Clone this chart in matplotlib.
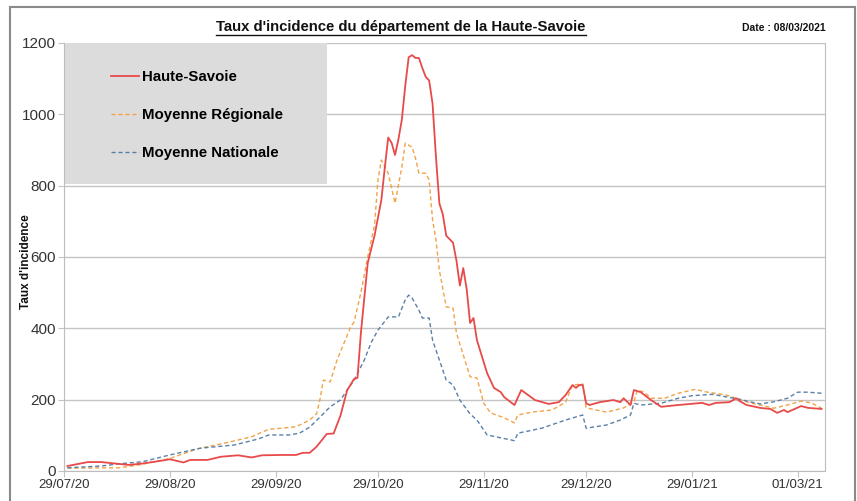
import matplotlib
matplotlib.use("Agg")
import matplotlib.pyplot as plt
from matplotlib.patches import Rectangle
from matplotlib.lines import Line2D
import pandas as pd

# days since 29/07/2020 and incidence values
hs_days = [1, 7, 11, 16, 19, 23, 28, 31, 35, 37, 42, 46, 51, 55, 58, 64, 68, 70, 72, 74,
           77, 79, 81, 83, 85, 86, 87, 89, 91, 93, 94, 95, 96, 97, 98, 99, 100, 101, 102,
           103, 104, 105, 106, 107, 108, 109, 110, 111, 112, 114, 115, 116, 117, 118, 119,
           120, 121, 124, 126, 128, 129, 132, 134, 138, 142, 145, 147, 149, 150, 151, 152,
           153, 154, 157, 161, 163, 164, 166, 167, 169, 172, 175, 180, 187, 189, 191, 195,
           197, 198, 200, 204, 207, 209, 211, 212, 216, 218, 222]
hs_vals = [14, 25, 25, 20, 17, 21, 28, 33, 24, 31, 31, 40, 44, 38, 44, 45, 45, 51, 51, 68,
           104, 105, 155, 227, 258, 261, 387, 583, 660, 760, 850, 935, 920, 886, 930, 985,
           1080, 1160, 1166, 1158, 1158, 1130, 1105, 1095, 1030, 880, 750, 720, 660, 640,
           590, 520, 569, 510, 415, 429, 367, 274, 233, 221, 207, 185, 227, 199, 188, 193,
           213, 241, 233, 241, 241, 190, 185, 193, 199, 193, 204, 185, 227, 221, 199, 180,
           185, 191, 185, 191, 193, 204, 196, 185, 177, 174, 163, 171, 165, 182, 177, 174]

reg_days = [1, 16, 22, 31, 39, 47, 55, 60, 64, 68, 72, 74, 75, 76, 78, 80, 84, 85, 87, 89,
            91, 92, 93, 95, 97, 99, 100, 102, 103, 104, 106, 107, 108, 109, 110, 112, 114,
            115, 119, 121, 123, 125, 129, 132, 133, 137, 143, 147, 149, 152, 153, 159, 164,
            167, 168, 170, 172, 176, 180, 185, 188, 194, 197, 201, 205, 208, 212, 216, 219, 222]
reg_vals = [8, 9, 17, 35, 62, 78, 96, 117, 120, 124, 143, 160, 200, 255, 250, 311, 404, 418,
            500, 600, 690, 816, 872, 835, 751, 852, 919, 908, 877, 835, 835, 816, 704, 648,
            563, 460, 457, 387, 264, 261, 190, 163, 149, 135, 157, 165, 171, 193, 241, 244,
            177, 165, 177, 193, 227, 221, 204, 204, 218, 229, 222, 213, 204, 191, 183, 176,
            185, 196, 191, 176]

nat_days = [1, 11, 16, 23, 31, 40, 50, 57, 60, 66, 69, 72, 75, 78, 81, 85, 88, 90, 92, 95,
            98, 100, 101, 102, 104, 105, 107, 108, 110, 112, 114, 116, 119, 121, 124, 127,
            131, 132, 133, 140, 147, 152, 153, 159, 163, 166, 167, 169, 175, 180, 184, 190,
            194, 198, 201, 204, 208, 212, 215, 218, 222]
nat_vals = [9, 14, 20, 26, 45, 64, 73, 90, 101, 101, 106, 123, 151, 180, 199, 255, 311, 360,
            395, 432, 432, 480, 493, 485, 451, 429, 429, 367, 311, 255, 241, 199, 160, 143,
            101, 95, 87, 85, 106, 120, 143, 157, 120, 129, 143, 157, 190, 185, 190, 204, 211,
            215, 208, 201, 194, 188, 194, 204, 221, 221, 218]

tick_labels = ["29/07/20", "29/08/20", "29/09/20", "29/10/20", "29/11/20",
               "29/12/20", "29/01/21", "01/03/21"]

start = pd.Timestamp("2020-07-29")
to_dates = lambda d: start + pd.to_timedelta(d, unit="D")

plt.rcParams["font.family"] = ["Liberation Sans", "DejaVu Sans"]

fig = plt.figure(figsize=(8.57, 5.01), dpi=100)
W, H = 857, 501
ax = fig.add_axes([64 / W, 1 - 471 / H, (825 - 64) / W, (471 - 43) / H])

# outer frame of the picture
fig.patches.append(Rectangle((10 / W, -0.05), (855 - 10) / W, 1 - 7 / H + 0.05,
                             transform=fig.transFigure, fill=False,
                             edgecolor="#8a8a8a", lw=1.5))

ax.plot(to_dates(hs_days), hs_vals, color="#e84a4a", lw=1.3, label="Haute-Savoie", zorder=4)
ax.plot(to_dates(reg_days), reg_vals, color="#f2a346", lw=1.0, ls=(0, (3, 2)),
        label="Moyenne Régionale", zorder=3)
ax.plot(to_dates(nat_days), nat_vals, color="#5a80a8", lw=1.0, ls=(0, (3, 2)),
        label="Moyenne Nationale", zorder=3)

ax.set_xlim(start, to_dates(223))
ax.set_ylim(0, 1200)
ax.set_yticks(range(0, 1201, 200))
ax.yaxis.grid(True, color="#c4c4c4", lw=1)
ax.set_axisbelow(True)
tick_dates = pd.to_datetime(tick_labels, format="%d/%m/%y")
ax.set_xticks(tick_dates)
ax.set_xticklabels(tick_labels)
ax.tick_params(axis="x", labelsize=9.5, colors="#c4c4c4", labelcolor="#333333", length=4, pad=2)
ax.tick_params(axis="y", labelsize=11, colors="#c4c4c4", labelcolor="#333333", length=4, pad=2)
for s in ["left", "bottom", "right"]:
    ax.spines[s].set_color("#bdbdbd")
ax.spines["top"].set_visible(False)

# grey legend panel
ax.add_patch(Rectangle((0, (471 - 184) / 428), (327 - 64) / 761, 1 - (471 - 184) / 428,
                       transform=ax.transAxes, facecolor="#dcdcdc", edgecolor="none", zorder=1.5))
leg = ax.legend(loc="upper left", bbox_to_anchor=((103 - 64) / 761, (471 - 63) / 428),
                frameon=False, borderpad=0, handlelength=1.9, handletextpad=0.2,
                labelspacing=1.6, prop={"weight": "bold", "size": 10.8})
leg.set_zorder(5)

fig.text(26 / W, 1 - 262 / H, "Taux d'incidence", rotation=90, ha="center", va="center",
         fontsize=8.5, fontweight="bold", color="#111111")

title = fig.text(401 / W, 1 - 27 / H, "Taux d'incidence du département de la Haute-Savoie",
                 ha="center", va="center", fontsize=10.7, fontweight="bold", color="#111111")
fig.text(826 / W, 1 - 28 / H, "Date : 08/03/2021", ha="right", va="center",
         fontsize=7.5, fontweight="bold", color="#111111")

# underline the title
fig.canvas.draw()
bb = title.get_window_extent().transformed(fig.transFigure.inverted())
fig.lines.append(Line2D([bb.x0, bb.x1], [bb.y0 - 1 / H, bb.y0 - 1 / H],
                        transform=fig.transFigure, color="#111111", lw=1))

fig.savefig("out.png", dpi=100)
